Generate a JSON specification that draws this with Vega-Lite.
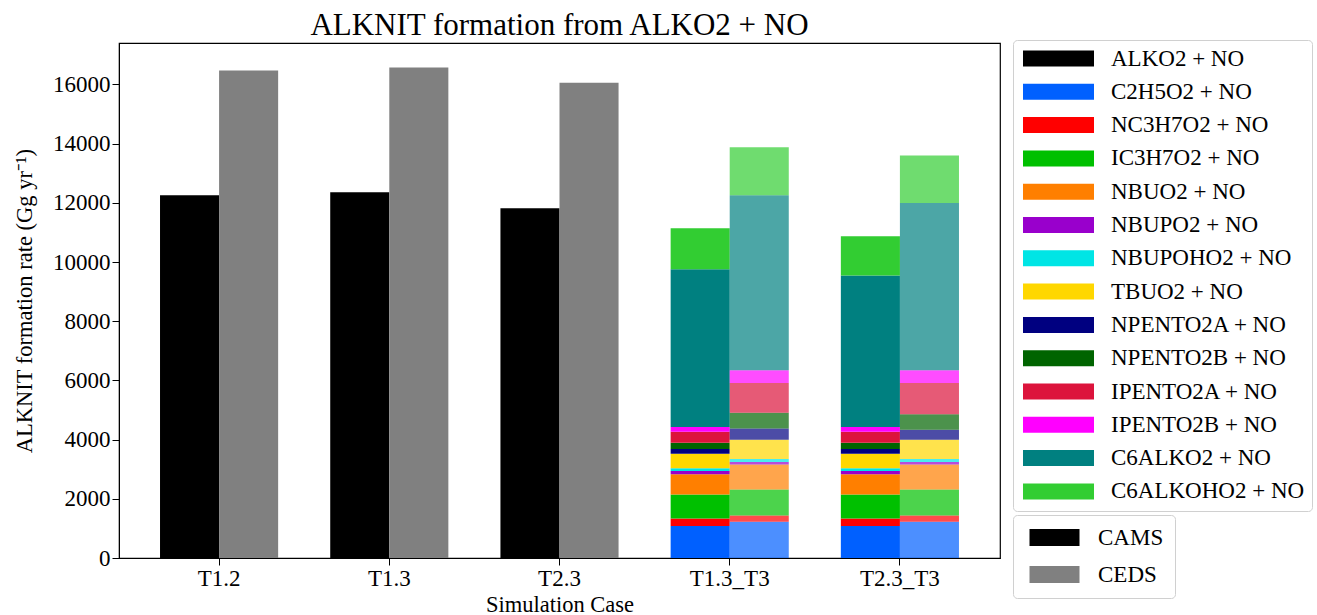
{
  "$schema": "https://vega.github.io/schema/vega-lite/v6.json",
  "autosize": {"type": "none"},
  "width": 881,
  "height": 515,
  "padding": {"left": 119, "top": 43, "right": 317, "bottom": 57},
  "background": "white",
  "config": {
    "font": "Liberation Serif",
    "view": {"stroke": "black", "strokeWidth": 1.2},
    "axis": {"domainColor": "black", "tickColor": "black", "labelColor": "black", "titleColor": "black", "labelFontSize": 23, "titleFontSize": 22.5, "titleFontWeight": "normal", "grid": false, "tickSize": 7, "labelFont": "Liberation Serif", "titleFont": "Liberation Serif"},
    "legend": {"labelFont": "Liberation Serif", "labelFontSize": 23, "labelColor": "black", "labelLimit": 400}
  },
  "title": {"text": "ALKNIT formation from ALKO2 + NO", "fontSize": 31, "fontWeight": "normal", "font": "Liberation Serif", "color": "black", "offset": -2},
  "datasets": {
    "totals": [
      {"case": "T1.2", "inv": "CAMS", "value": 12260},
      {"case": "T1.2", "inv": "CEDS", "value": 16470},
      {"case": "T1.3", "inv": "CAMS", "value": 12360},
      {"case": "T1.3", "inv": "CEDS", "value": 16570},
      {"case": "T2.3", "inv": "CAMS", "value": 11820},
      {"case": "T2.3", "inv": "CEDS", "value": 16060}
    ],
    "species": [
      {"case": "T1.3_T3", "inv": "CAMS", "species": "C2H5O2 + NO", "k": 1, "value": 1078},
      {"case": "T1.3_T3", "inv": "CAMS", "species": "NC3H7O2 + NO", "k": 2, "value": 259},
      {"case": "T1.3_T3", "inv": "CAMS", "species": "IC3H7O2 + NO", "k": 3, "value": 808},
      {"case": "T1.3_T3", "inv": "CAMS", "species": "NBUO2 + NO", "k": 4, "value": 684},
      {"case": "T1.3_T3", "inv": "CAMS", "species": "NBUPO2 + NO", "k": 5, "value": 112},
      {"case": "T1.3_T3", "inv": "CAMS", "species": "NBUPOHO2 + NO", "k": 6, "value": 90},
      {"case": "T1.3_T3", "inv": "CAMS", "species": "TBUO2 + NO", "k": 7, "value": 494},
      {"case": "T1.3_T3", "inv": "CAMS", "species": "NPENTO2A + NO", "k": 8, "value": 157},
      {"case": "T1.3_T3", "inv": "CAMS", "species": "NPENTO2B + NO", "k": 9, "value": 214},
      {"case": "T1.3_T3", "inv": "CAMS", "species": "IPENTO2A + NO", "k": 10, "value": 370},
      {"case": "T1.3_T3", "inv": "CAMS", "species": "IPENTO2B + NO", "k": 11, "value": 157},
      {"case": "T1.3_T3", "inv": "CAMS", "species": "C6ALKO2 + NO", "k": 12, "value": 5333},
      {"case": "T1.3_T3", "inv": "CAMS", "species": "C6ALKOHO2 + NO", "k": 13, "value": 1381},
      {"case": "T1.3_T3", "inv": "CEDS", "species": "C2H5O2 + NO", "k": 1, "value": 1224},
      {"case": "T1.3_T3", "inv": "CEDS", "species": "NC3H7O2 + NO", "k": 2, "value": 213},
      {"case": "T1.3_T3", "inv": "CEDS", "species": "IC3H7O2 + NO", "k": 3, "value": 876},
      {"case": "T1.3_T3", "inv": "CEDS", "species": "NBUO2 + NO", "k": 4, "value": 842},
      {"case": "T1.3_T3", "inv": "CEDS", "species": "NBUPO2 + NO", "k": 5, "value": 90},
      {"case": "T1.3_T3", "inv": "CEDS", "species": "NBUPOHO2 + NO", "k": 6, "value": 101},
      {"case": "T1.3_T3", "inv": "CEDS", "species": "TBUO2 + NO", "k": 7, "value": 651},
      {"case": "T1.3_T3", "inv": "CEDS", "species": "NPENTO2A + NO", "k": 8, "value": 382},
      {"case": "T1.3_T3", "inv": "CEDS", "species": "NPENTO2B + NO", "k": 9, "value": 527},
      {"case": "T1.3_T3", "inv": "CEDS", "species": "IPENTO2A + NO", "k": 10, "value": 1010},
      {"case": "T1.3_T3", "inv": "CEDS", "species": "IPENTO2B + NO", "k": 11, "value": 427},
      {"case": "T1.3_T3", "inv": "CEDS", "species": "C6ALKO2 + NO", "k": 12, "value": 5917},
      {"case": "T1.3_T3", "inv": "CEDS", "species": "C6ALKOHO2 + NO", "k": 13, "value": 1617},
      {"case": "T2.3_T3", "inv": "CAMS", "species": "C2H5O2 + NO", "k": 1, "value": 1078},
      {"case": "T2.3_T3", "inv": "CAMS", "species": "NC3H7O2 + NO", "k": 2, "value": 259},
      {"case": "T2.3_T3", "inv": "CAMS", "species": "IC3H7O2 + NO", "k": 3, "value": 808},
      {"case": "T2.3_T3", "inv": "CAMS", "species": "NBUO2 + NO", "k": 4, "value": 684},
      {"case": "T2.3_T3", "inv": "CAMS", "species": "NBUPO2 + NO", "k": 5, "value": 112},
      {"case": "T2.3_T3", "inv": "CAMS", "species": "NBUPOHO2 + NO", "k": 6, "value": 90},
      {"case": "T2.3_T3", "inv": "CAMS", "species": "TBUO2 + NO", "k": 7, "value": 494},
      {"case": "T2.3_T3", "inv": "CAMS", "species": "NPENTO2A + NO", "k": 8, "value": 157},
      {"case": "T2.3_T3", "inv": "CAMS", "species": "NPENTO2B + NO", "k": 9, "value": 214},
      {"case": "T2.3_T3", "inv": "CAMS", "species": "IPENTO2A + NO", "k": 10, "value": 370},
      {"case": "T2.3_T3", "inv": "CAMS", "species": "IPENTO2B + NO", "k": 11, "value": 157},
      {"case": "T2.3_T3", "inv": "CAMS", "species": "C6ALKO2 + NO", "k": 12, "value": 5120},
      {"case": "T2.3_T3", "inv": "CAMS", "species": "C6ALKOHO2 + NO", "k": 13, "value": 1325},
      {"case": "T2.3_T3", "inv": "CEDS", "species": "C2H5O2 + NO", "k": 1, "value": 1224},
      {"case": "T2.3_T3", "inv": "CEDS", "species": "NC3H7O2 + NO", "k": 2, "value": 213},
      {"case": "T2.3_T3", "inv": "CEDS", "species": "IC3H7O2 + NO", "k": 3, "value": 876},
      {"case": "T2.3_T3", "inv": "CEDS", "species": "NBUO2 + NO", "k": 4, "value": 842},
      {"case": "T2.3_T3", "inv": "CEDS", "species": "NBUPO2 + NO", "k": 5, "value": 90},
      {"case": "T2.3_T3", "inv": "CEDS", "species": "NBUPOHO2 + NO", "k": 6, "value": 101},
      {"case": "T2.3_T3", "inv": "CEDS", "species": "TBUO2 + NO", "k": 7, "value": 651},
      {"case": "T2.3_T3", "inv": "CEDS", "species": "NPENTO2A + NO", "k": 8, "value": 337},
      {"case": "T2.3_T3", "inv": "CEDS", "species": "NPENTO2B + NO", "k": 9, "value": 527},
      {"case": "T2.3_T3", "inv": "CEDS", "species": "IPENTO2A + NO", "k": 10, "value": 1055},
      {"case": "T2.3_T3", "inv": "CEDS", "species": "IPENTO2B + NO", "k": 11, "value": 427},
      {"case": "T2.3_T3", "inv": "CEDS", "species": "C6ALKO2 + NO", "k": 12, "value": 5648},
      {"case": "T2.3_T3", "inv": "CEDS", "species": "C6ALKOHO2 + NO", "k": 13, "value": 1605}
    ]
  },
  "encoding": {
    "x": {"field": "case", "type": "nominal", "sort": ["T1.2", "T1.3", "T2.3", "T1.3_T3", "T2.3_T3"],
      "scale": {"domain": ["T1.2", "T1.3", "T2.3", "T1.3_T3", "T2.3_T3"], "paddingInner": 0.306, "paddingOuter": 0.241},
      "axis": {"title": "Simulation Case", "labelAngle": 0, "titlePadding": 3, "labelPadding": 2}},
    "xOffset": {"field": "inv", "type": "nominal", "scale": {"domain": ["CAMS", "CEDS"], "paddingInner": 0, "paddingOuter": 0}},
    "y": {"field": "value", "type": "quantitative", "stack": "zero",
      "scale": {"domain": [0, 17400], "nice": false, "zero": true},
      "axis": {"title": "ALKNIT formation rate (Gg yr⁻¹)", "values": [0, 2000, 4000, 6000, 8000, 10000, 12000, 14000, 16000], "format": "d", "titlePadding": 16, "labelPadding": 2}}
  },
  "layer": [
    {
      "data": {"name": "totals"},
      "mark": {"type": "bar"},
      "encoding": {
        "color": {"field": "inv", "type": "nominal", "scale": {"domain": ["CAMS", "CEDS"], "range": ["#000000", "#808080"]},
          "legend": {"title": null, "orient": "none", "legendX": 894, "legendY": 472, "symbolType": "M-3.125,-1.06H3.125V1.06H-3.125Z", "symbolSize": 256, "symbolOffset": 19, "symbolStrokeWidth": 0, "symbolOpacity": 1, "labelOffset": 32, "rowPadding": 13, "padding": 11, "strokeColor": "#d0d0d0", "cornerRadius": 4, "fillColor": "white"}}
      }
    },
    {
      "data": {"name": "species"},
      "mark": {"type": "bar"},
      "encoding": {
        "color": {"field": "species", "type": "nominal",
          "scale": {"domain": ["ALKO2 + NO", "C2H5O2 + NO", "NC3H7O2 + NO", "IC3H7O2 + NO", "NBUO2 + NO", "NBUPO2 + NO", "NBUPOHO2 + NO", "TBUO2 + NO", "NPENTO2A + NO", "NPENTO2B + NO", "IPENTO2A + NO", "IPENTO2B + NO", "C6ALKO2 + NO", "C6ALKOHO2 + NO"],
            "range": ["#000000", "#0060FF", "#FF0000", "#00C000", "#FF7F00", "#9900CC", "#00E5E5", "#FFD700", "#000080", "#006400", "#DC143C", "#FF00FF", "#008080", "#32CD32"]},
          "legend": {"title": null, "orient": "none", "legendX": 894, "legendY": -3, "symbolType": "M-4.4375,-1H4.4375V1H-4.4375Z", "symbolSize": 256, "symbolOffset": 27, "symbolStrokeWidth": 0, "symbolOpacity": 1, "labelOffset": 41, "rowPadding": 9.3, "padding": 7, "strokeColor": "#d0d0d0", "cornerRadius": 4, "fillColor": "white"}},
        "opacity": {"field": "inv", "type": "nominal", "scale": {"domain": ["CAMS", "CEDS"], "range": [1, 0.7]}, "legend": null},
        "order": {"field": "k", "type": "quantitative"}
      }
    }
  ],
  "resolve": {"scale": {"color": "independent", "opacity": "independent"}}
}
